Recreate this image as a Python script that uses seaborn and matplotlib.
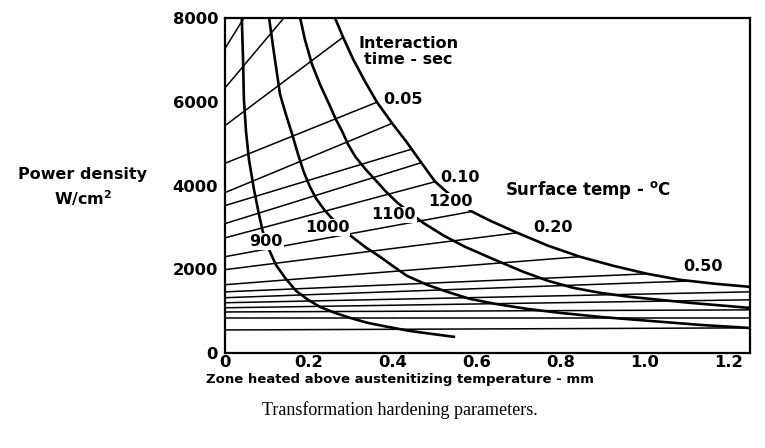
import numpy as np
import pandas as pd
import matplotlib
matplotlib.use("Agg")
import matplotlib.pyplot as plt
import seaborn as sns

# ---- Surface temperature curves (heavy lines), x in mm, P in W/cm2 ----
temp_labels = ["900", "1000", "1100", "1200"]
t900_x = [0.040, 0.043, 0.045, 0.050, 0.057, 0.069, 0.081, 0.090, 0.105, 0.121, 0.143,
          0.169, 0.198, 0.226, 0.262, 0.298, 0.340, 0.388, 0.440, 0.493, 0.548]
t900_p = [8000, 7017, 6059, 5293, 4622, 3904, 3305, 2898, 2467, 2108, 1796,
          1485, 1269, 1102, 958, 838, 719, 623, 527, 455, 383]
t1000_x = [0.105, 0.117, 0.131, 0.145, 0.160, 0.174, 0.188, 0.202, 0.217, 0.236, 0.255,
           0.279, 0.305, 0.336, 0.369, 0.402, 0.433, 0.481, 0.529, 0.583, 0.643, 0.719,
           0.798, 0.893, 1.012, 1.131, 1.248]
t1000_p = [8000, 7137, 6179, 5700, 5221, 4742, 4311, 3976, 3688, 3425, 3209,
           2970, 2754, 2515, 2299, 2060, 1844, 1629, 1461, 1293, 1174, 1054,
           958, 862, 766, 671, 599]
t1100_x = [0.179, 0.190, 0.207, 0.226, 0.248, 0.264, 0.279, 0.293, 0.310, 0.333, 0.357,
           0.383, 0.410, 0.440, 0.471, 0.521, 0.571, 0.631, 0.710, 0.769, 0.829, 0.893,
           0.964, 1.107, 1.248]
t1100_p = [8000, 7496, 6898, 6419, 5940, 5580, 5293, 4982, 4694, 4407, 4143,
           3856, 3593, 3353, 3114, 2802, 2539, 2275, 1940, 1724, 1557, 1437,
           1341, 1198, 1078]
t1200_x = [0.262, 0.281, 0.305, 0.333, 0.362, 0.398, 0.433, 0.467, 0.500, 0.543, 0.588,
           0.631, 0.695, 0.769, 0.845, 0.924, 1.005, 1.083, 1.167, 1.248]
t1200_p = [8000, 7544, 7017, 6490, 5988, 5485, 5030, 4551, 4095, 3712, 3377,
           3161, 2874, 2563, 2299, 2084, 1892, 1748, 1653, 1581]

# ---- Interaction time lines (thin lines): start on the P axis, end on 1200 curve / frame ----
time_x = [
    [0.0, 0.045],
    [0.0, 0.140],
    [0.0, 0.281],
    [0.0, 0.362],
    [0.0, 0.398],
    [0.0, 0.445],
    [0.0, 0.469],
    [0.0, 0.500],
    [0.0, 0.588],
    [0.0, 0.695],
    [0.0, 0.845],
    [0.0, 1.005],
    [0.0, 1.107],
    [0.0, 1.248],
    [0.0, 1.248],
    [0.0, 1.248],
    [0.0, 1.248],
    [0.0, 1.248],
]
time_p = [
    [7270, 8000],
    [6330, 8000],
    [5430, 7540],
    [4530, 5990],
    [3830, 5485],
    [3520, 4870],
    [3090, 4550],
    [2750, 4090],
    [2300, 3380],
    [1990, 2870],
    [1630, 2300],
    [1460, 1890],
    [1320, 1720],
    [1200, 1460],
    [1080, 1270],
    [980, 1030],
    [840, 840],
    [550, 600],
]

xticks = [0, 0.2, 0.4, 0.6, 0.8, 1.0, 1.2]
xtick_labels = ["0", "0.2", "0.4", "0.6", "0.8", "1.0", "1.2"]
yticks = [0, 2000, 4000, 6000, 8000]
ytick_labels = ["0", "2000", "4000", "6000", "8000"]

# ---- build long tables ----
rows = []
for name, xs, ps in zip(temp_labels, [t900_x, t1000_x, t1100_x, t1200_x],
                        [t900_p, t1000_p, t1100_p, t1200_p]):
    for i, (a, b) in enumerate(zip(xs, ps)):
        rows.append({"curve": name, "order": i, "x": a, "P": b})
heavy = pd.DataFrame(rows)
rows = []
for k, (xs, ps) in enumerate(zip(time_x, time_p)):
    for i, (a, b) in enumerate(zip(xs, ps)):
        rows.append({"curve": f"t{k}", "order": i, "x": a, "P": b})
thin = pd.DataFrame(rows)

sns.set_style("white")
plt.rcParams["font.family"] = ["DejaVu Sans"]

W, H = 765, 448
fig = plt.figure(figsize=(W / 100, H / 100), dpi=100)
ax = fig.add_axes([225 / W, 1 - 353 / H, (750 - 225) / W, (353 - 18) / H])

sns.lineplot(data=thin, x="x", y="P", units="curve", estimator=None, sort=False,
             color="black", lw=1.1, ax=ax, legend=False)
sns.lineplot(data=heavy, x="x", y="P", units="curve", estimator=None, sort=False,
             color="black", lw=1.9, ax=ax, legend=False)
for ln in ax.lines:
    ln.set_solid_joinstyle("round")
    ln.set_solid_capstyle("butt")

ax.set_xlim(0, 1.25)
ax.set_ylim(0, 8000)
ax.set_xlabel("")
ax.set_ylabel("")
ax.set_xticks(xticks)
ax.set_xticklabels(xtick_labels)
ax.set_yticks(yticks)
ax.set_yticklabels(ytick_labels)
ax.set_yticks([1000, 3000, 5000, 7000], minor=True)
ax.tick_params(axis="both", which="both", direction="in", length=5, width=1.2,
               labelsize=11.8, colors="black")
ax.tick_params(axis="x", pad=1.5)
ax.tick_params(axis="y", pad=5)
for lab in ax.get_xticklabels() + ax.get_yticklabels():
    lab.set_fontweight("bold")
for s in ax.spines.values():
    s.set_linewidth(1.6)
    s.set_color("black")

tkw = dict(fontsize=11.5, fontweight="bold", color="black")
box = dict(facecolor="white", edgecolor="none", pad=0.6)
ax.text(0.436, 7200, "Interaction\ntime - sec", ha="center", va="center", linespacing=1.05, **tkw)
ax.text(0.376, 6060, "0.05", ha="left", va="center", **tkw)
ax.text(0.512, 4190, "0.10", ha="left", va="center", **tkw)
ax.text(0.733, 2990, "0.20", ha="left", va="center", **tkw)
ax.text(1.090, 2060, "0.50", ha="left", va="center", **tkw)
ax.text(0.536, 3620, "1200", ha="center", va="center", bbox=box, **tkw)
ax.text(0.402, 3300, "1100", ha="center", va="center", bbox=box, **tkw)
ax.text(0.243, 2990, "1000", ha="center", va="center", bbox=box, **tkw)
ax.text(0.098, 2660, "900", ha="center", va="center", bbox=box, **tkw)
ax.text(0.667, 3900, r"Surface temp - $^{\mathregular{o}}$C", ha="left", va="center",
        fontsize=12, fontweight="bold", color="black")

fig.text(83 / W, 1 - 175 / H, "Power density", ha="center", va="center", **tkw)
fig.text(83 / W, 1 - 198 / H, r"W/cm$^{\mathregular{2}}$", ha="center", va="center", **tkw)
fig.text(400 / W, 1 - 379 / H, "Zone heated above austenitizing temperature - mm",
         ha="center", va="center", fontsize=9.5, fontweight="bold", color="black")
fig.text(400 / W, 1 - 410 / H, "Transformation hardening parameters.", ha="center",
         va="center", fontsize=13, family="Liberation Serif", color="black")

fig.savefig("out.png", dpi=100)
